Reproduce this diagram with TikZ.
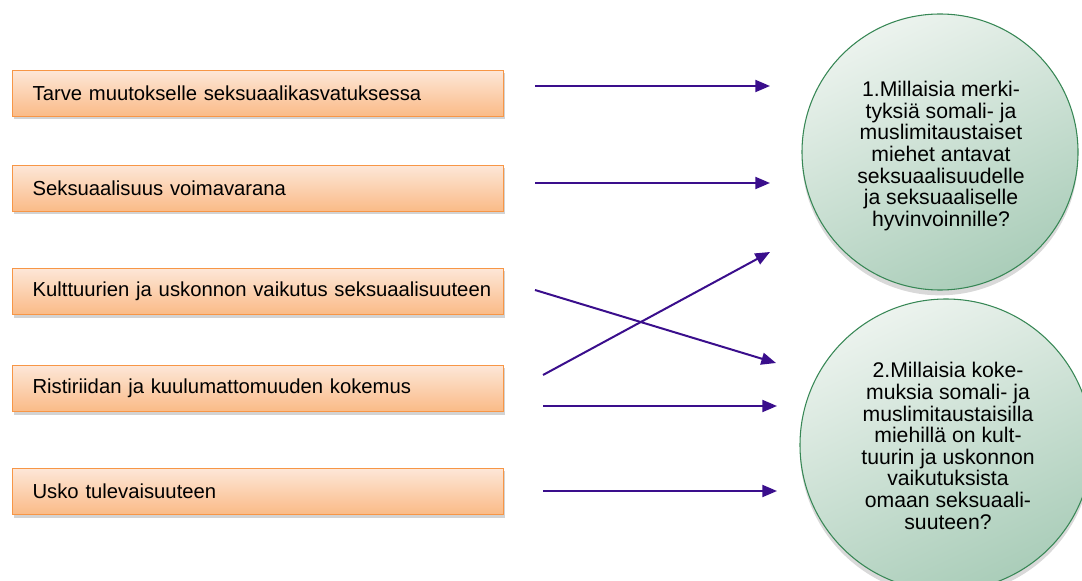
\documentclass[tikz,border=0pt]{standalone}
\usepackage{fontspec}
\setmainfont{Liberation Sans}
\usetikzlibrary{arrows.meta,shadows}
\definecolor{boxtop}{RGB}{253,231,216}
\definecolor{boxbot}{RGB}{250,186,134}
\definecolor{boxline}{RGB}{247,150,70}
\definecolor{circlight}{RGB}{236,243,238}
\definecolor{circdark}{RGB}{170,205,185}
\definecolor{circline}{RGB}{55,135,85}
\definecolor{arrcol}{RGB}{58,14,140}
\tikzset{
  themebox/.style={draw=boxline, line width=0.9pt, top color=boxtop, bottom color=boxbot,
    anchor=west, text width=338pt, inner xsep=15pt, minimum height=35pt, align=left,
    font=\fontsize{15.2}{18}\selectfont,
    drop shadow={shadow xshift=1pt, shadow yshift=-2pt, opacity=0.35, fill=gray}},
  question/.style={circle, draw=circline, line width=0.8pt, inner sep=0pt,
    shading=axis, top color=circlight, bottom color=circdark, shading angle=25,
    drop shadow={shadow xshift=0pt, shadow yshift=-4pt, opacity=0.3, fill=gray}},
  qtext/.style={align=center, inner sep=0pt, font=\fontsize{15.9}{16.2}\selectfont}
}
\tikzset{link/.style={draw=arrcol, line width=1.5pt, -{Triangle[length=11pt,width=9pt]}}}
\begin{document}
\begin{tikzpicture}[x=0.75pt,y=-0.75pt]
\useasboundingbox (0,0) rectangle (1082,581);
\node[themebox] (b1) at (12,93.5) {\mbox{Tarve muutokselle seksuaalikasvatuksessa}};
\node[themebox] (b2) at (12,188.5) {\mbox{Seksuaalisuus voimavarana}};
\node[themebox] (b3) at (12,291.5) {\mbox{Kulttuurien ja uskonnon vaikutus seksuaalisuuteen}};
\node[themebox] (b4) at (12,388.5) {\mbox{Ristiriidan ja kuulumattomuuden kokemus}};
\node[themebox] (b5) at (12,491.5) {\mbox{Usko tulevaisuuteen}};

\node[question, minimum size=207pt] (q1) at (940,152) {};
\node[qtext] (q1t) at (941,156) {1.Millaisia merki-\\tyksiä somali- ja\\muslimitaustaiset\\miehet antavat\\seksuaalisuudelle\\ja seksuaaliselle\\hyvinvoinnille?};
\node[question, minimum size=219pt] (q2) at (946,445) {};
\node[qtext] (q2t) at (948,446) {2.Millaisia koke-\\muksia somali- ja\\muslimitaustaisilla\\miehillä on kult-\\tuurin ja uskonnon\\vaikutuksista\\omaan seksuaali-\\suuteen?};

\coordinate (s1) at (535,86);  \coordinate (e1) at (770,86);
\coordinate (s2) at (535,183); \coordinate (e2) at (770,183);
\coordinate (s3) at (535,290); \coordinate (e3) at (776,363);
\coordinate (s4) at (543,375); \coordinate (e4) at (770,252);
\coordinate (s5) at (543,406); \coordinate (e5) at (777,406);
\coordinate (s6) at (543,491); \coordinate (e6) at (777,491);
\draw[link] (s1) -- (e1);
\draw[link] (s2) -- (e2);
\draw[link] (s3) -- (e3);
\draw[link] (s4) -- (e4);
\draw[link] (s5) -- (e5);
\draw[link] (s6) -- (e6);
\end{tikzpicture}
\end{document}
